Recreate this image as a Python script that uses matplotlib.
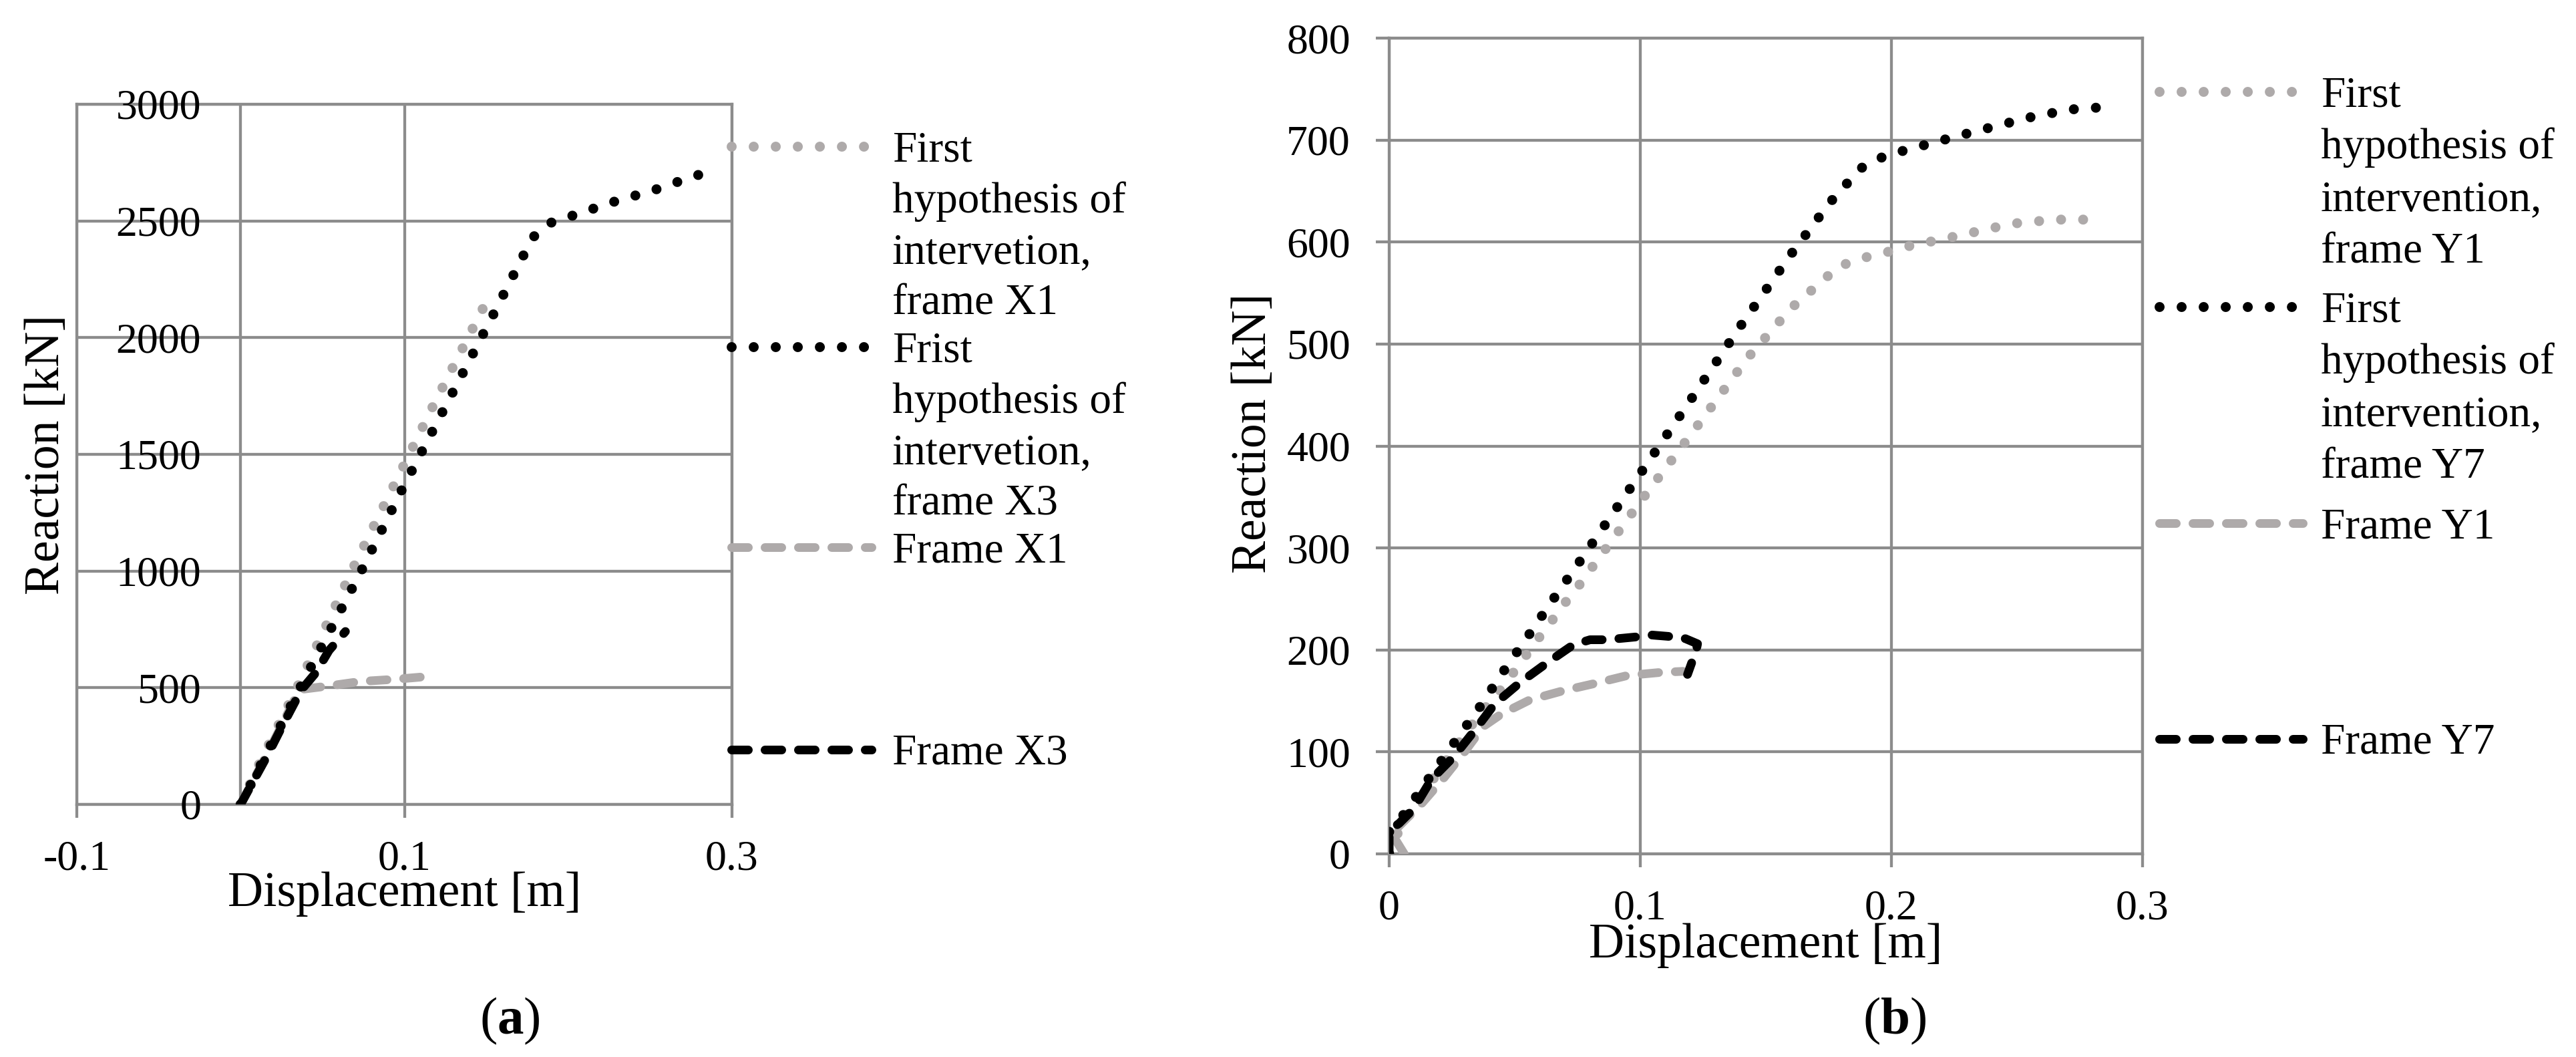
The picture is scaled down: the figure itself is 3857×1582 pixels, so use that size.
import matplotlib
matplotlib.use("Agg")
import matplotlib.pyplot as plt
from matplotlib.lines import Line2D

plt.rcParams['font.family'] = ['Liberation Serif', 'DejaVu Serif']
plt.rcParams['mathtext.fontset'] = 'custom'
plt.rcParams['mathtext.rm'] = 'Liberation Serif'
plt.rcParams['mathtext.bf'] = 'Liberation Serif:bold'
plt.rcParams['lines.scale_dashes'] = False

# ---------------- data ----------------
# panel (a)
a_hypX1_disp = [0, 0.0115, 0.0353, 0.0693, 0.0992, 0.1172, 0.1536]
a_hypX1_react = [0, 175, 512, 1022, 1447, 1703, 2203]
a_hypX3_disp = [0, 0.0366, 0.074, 0.0983, 0.1542, 0.1725, 0.179, 0.1893, 0.2015,
                0.2269, 0.2532, 0.2786, 0.2918]
a_hypX3_react = [0, 504, 1005, 1346, 2098, 2350, 2433, 2492, 2520, 2580, 2634, 2696, 2711]
a_frameX1_disp = [0, 0.018, 0.036, 0.053, 0.0734, 0.0938, 0.114]
a_frameX1_react = [0, 240, 492, 507, 527, 536, 548]
a_frameX3_disp = [0, 0.007, 0.016, 0.025, 0.037, 0.046, 0.054, 0.064]
a_frameX3_react = [0, 90, 205, 330, 490, 565, 660, 741]
a_labels = ["First\nhypothesis of\nintervetion,\nframe X1",
            "Frist\nhypothesis of\nintervetion,\nframe X3",
            "Frame X1", "Frame X3"]
a_xticks = [-0.1, 0.1, 0.3]
a_xticklabels = ["-0.1", "0.1", "0.3"]
a_yticks = [0, 500, 1000, 1500, 2000, 2500, 3000]
a_yticklabels = ["0", "500", "1000", "1500", "2000", "2500", "3000"]

# panel (b)
b_hypY1_disp = [0, 0.005, 0.016, 0.026, 0.036, 0.0428, 0.0486, 0.0534, 0.0587, 0.064,
                0.0693, 0.0746, 0.0805, 0.1008, 0.1216, 0.1426, 0.160, 0.179, 0.188,
                0.1967, 0.205, 0.2226, 0.248, 0.265, 0.282]
b_hypY1_react = [0, 30, 68, 103, 137, 156, 175, 191, 209, 226, 244, 260, 280, 348, 416,
                 486, 535, 576, 584, 589, 595, 604, 618, 622, 622]
b_hypY7_disp = [0, 0, 0.0053, 0.0155, 0.0256, 0.0358, 0.0455, 0.0557, 0.0654, 0.0754,
                0.1003, 0.120, 0.140, 0.160, 0.1756, 0.1876, 0.195, 0.204, 0.228, 0.2546,
                0.2713, 0.289]
b_hypY7_react = [0, 22, 37, 73, 108, 143, 179, 215, 250, 285, 374, 445, 518, 588, 639,
                 672, 682, 689, 705, 722, 730, 733]
b_frameY1_disp = [0.006, 0.001, 0.0128, 0.0216, 0.030, 0.0375, 0.0446, 0.056, 0.0693,
                  0.0817, 0.095, 0.1082, 0.117]
b_frameY1_react = [0, 20, 49, 74, 100, 125, 137, 151, 160, 167, 175, 178, 179]
b_frameY7_disp = [0, 0, 0.004, 0.0097, 0.0168, 0.0256, 0.034, 0.042, 0.0521, 0.0627,
                  0.0733, 0.08, 0.0866, 0.0994, 0.1047, 0.1126, 0.118, 0.1228, 0.1223, 0.1188]
b_frameY7_react = [0, 23, 30, 44, 73, 95, 121, 147, 168, 187, 205, 210, 210, 213, 214.6,
                   213, 211, 206, 200, 176]
b_labels = ["First\nhypothesis of\nintervention,\nframe Y1",
            "First\nhypothesis of\nintervention,\nframe Y7",
            "Frame Y1", "Frame Y7"]
b_xticks = [0, 0.1, 0.2, 0.3]
b_xticklabels = ["0", "0.1", "0.2", "0.3"]
b_yticks = [0, 100, 200, 300, 400, 500, 600, 700, 800]
b_yticklabels = ["0", "100", "200", "300", "400", "500", "600", "700", "800"]

xlabel = "Displacement [m]"
ylabel = "Reaction [kN]"

# ---------------- styling ----------------
W, H, DPI = 3857, 1582, 100
PX = 72.0 / DPI  # points per pixel
GRID = '#8c8c8c'
LGRAY = '#aeaaaa'
BLACK = '#000000'
GLW = 4.3 * PX
TICK_FS = 46
TITLE_FS = 53
LEG_FS = 47

dotted = dict(linestyle=(0, (0.01, 33 * PX)), linewidth=15 * PX,
              dash_capstyle='round', solid_capstyle='round')
dashed = dict(linestyle=(0, (25 * PX, 25 * PX)), linewidth=13 * PX,
              dash_capstyle='round', solid_capstyle='round')
styles = [dict(color=LGRAY, **dotted), dict(color=BLACK, **dotted),
          dict(color=LGRAY, **dashed), dict(color=BLACK, **dashed)]
zorders = [2, 4, 3, 5]

fig = plt.figure(figsize=(W / DPI, H / DPI), dpi=DPI)


def fx(px):
    return px / W


def fy(py):
    return 1 - py / H


def style_axes(ax):
    ax.set_axisbelow(True)
    for s in ax.spines.values():
        s.set_color(GRID)
        s.set_linewidth(GLW)
    ax.grid(True, color=GRID, linewidth=GLW)


def legend(handle_x0, handle_x1, text_x, handle_ys, labels, line_step):
    for st, y, lab in zip(styles, handle_ys, labels):
        fig.add_artist(Line2D([fx(handle_x0), fx(handle_x1)], [fy(y), fy(y)],
                              transform=fig.transFigure, **st))
        base = y + 22
        for k, line in enumerate(lab.split("\n")):
            fig.text(fx(text_x), fy(base + k * line_step), line, ha='left',
                     va='baseline', fontsize=LEG_FS)


# ---------------- panel (a) ----------------
axa = fig.add_axes([fx(115), fy(1204), fx(981), 1048 / H])
style_axes(axa)
axa.plot(a_hypX1_disp, a_hypX1_react, zorder=zorders[0], **styles[0])
axa.plot(a_hypX3_disp, a_hypX3_react, zorder=zorders[1], **styles[1])
axa.plot(a_frameX1_disp, a_frameX1_react, zorder=zorders[2], **styles[2])
axa.plot(a_frameX3_disp, a_frameX3_react, zorder=zorders[3], **styles[3])
axa.axvline(0, color=GRID, linewidth=GLW, zorder=1)
axa.set_xlim(-0.1, 0.3)
axa.set_ylim(0, 3000)
axa.set_xticks(a_xticks)
axa.set_xticklabels(a_xticklabels, fontsize=TICK_FS)
axa.set_yticks(a_yticks)
axa.tick_params(axis='x', direction='out', length=20 * PX, width=GLW, color=GRID,
                pad=34 * PX)
axa.tick_params(axis='y', length=0, labelleft=False)
for v, lab in zip(a_yticks, a_yticklabels):
    axa.annotate(lab, xy=(0, v), xytext=(-59 * PX, 0), textcoords='offset points',
                 ha='right', va='center_baseline', fontsize=TICK_FS, zorder=6,
                 annotation_clip=False)
axa.set_xlabel(xlabel, fontsize=TITLE_FS)
axa.xaxis.set_label_coords(0.5, (1204 - 1338) / 1048)
axa.xaxis.label.set_va('center')
axa.set_ylabel(ylabel, fontsize=TITLE_FS)
axa.yaxis.set_label_coords((70 - 115) / 981, 0.5)
axa.yaxis.label.set_va('center')

legend(1095, 1305, 1336, [219, 519, 819, 1122], a_labels, 76.5)

# ---------------- panel (b) ----------------
axb = fig.add_axes([fx(2080), fy(1278), fx(1128), 1221 / H])
style_axes(axb)
axb.plot(b_hypY1_disp, b_hypY1_react, zorder=zorders[0], **styles[0])
axb.plot(b_hypY7_disp, b_hypY7_react, zorder=zorders[1], **styles[1])
axb.plot(b_frameY1_disp, b_frameY1_react, zorder=zorders[2], **styles[2])
axb.plot(b_frameY7_disp, b_frameY7_react, zorder=zorders[3], **styles[3])
axb.set_xlim(0, 0.3)
axb.set_ylim(0, 800)
axb.set_xticks(b_xticks)
axb.set_xticklabels(b_xticklabels, fontsize=TICK_FS)
axb.set_yticks(b_yticks)
axb.set_yticklabels(b_yticklabels, fontsize=TICK_FS)
axb.tick_params(axis='x', direction='out', length=20 * PX, width=GLW, color=GRID,
                pad=34 * PX)
axb.tick_params(axis='y', direction='out', length=20 * PX, width=GLW, color=GRID,
                pad=38 * PX)
axb.set_xlabel(xlabel, fontsize=TITLE_FS)
axb.xaxis.set_label_coords(0.5, (1278 - 1415) / 1221)
axb.xaxis.label.set_va('center')
axb.set_ylabel(ylabel, fontsize=TITLE_FS)
axb.yaxis.set_label_coords((1877 - 2080) / 1128, 0.516)
axb.yaxis.label.set_va('center')

legend(3233, 3448, 3475, [137, 459, 783, 1106], b_labels, 78)

# ---------------- panel captions ----------------
fig.text(fx(763), fy(1528), r'($\mathbf{a}$)', ha='center', va='center', fontsize=57)
fig.text(fx(2837), fy(1528), r'($\mathbf{b}$)', ha='center', va='center', fontsize=57)

fig.savefig("out.png", dpi=DPI, facecolor='white')
